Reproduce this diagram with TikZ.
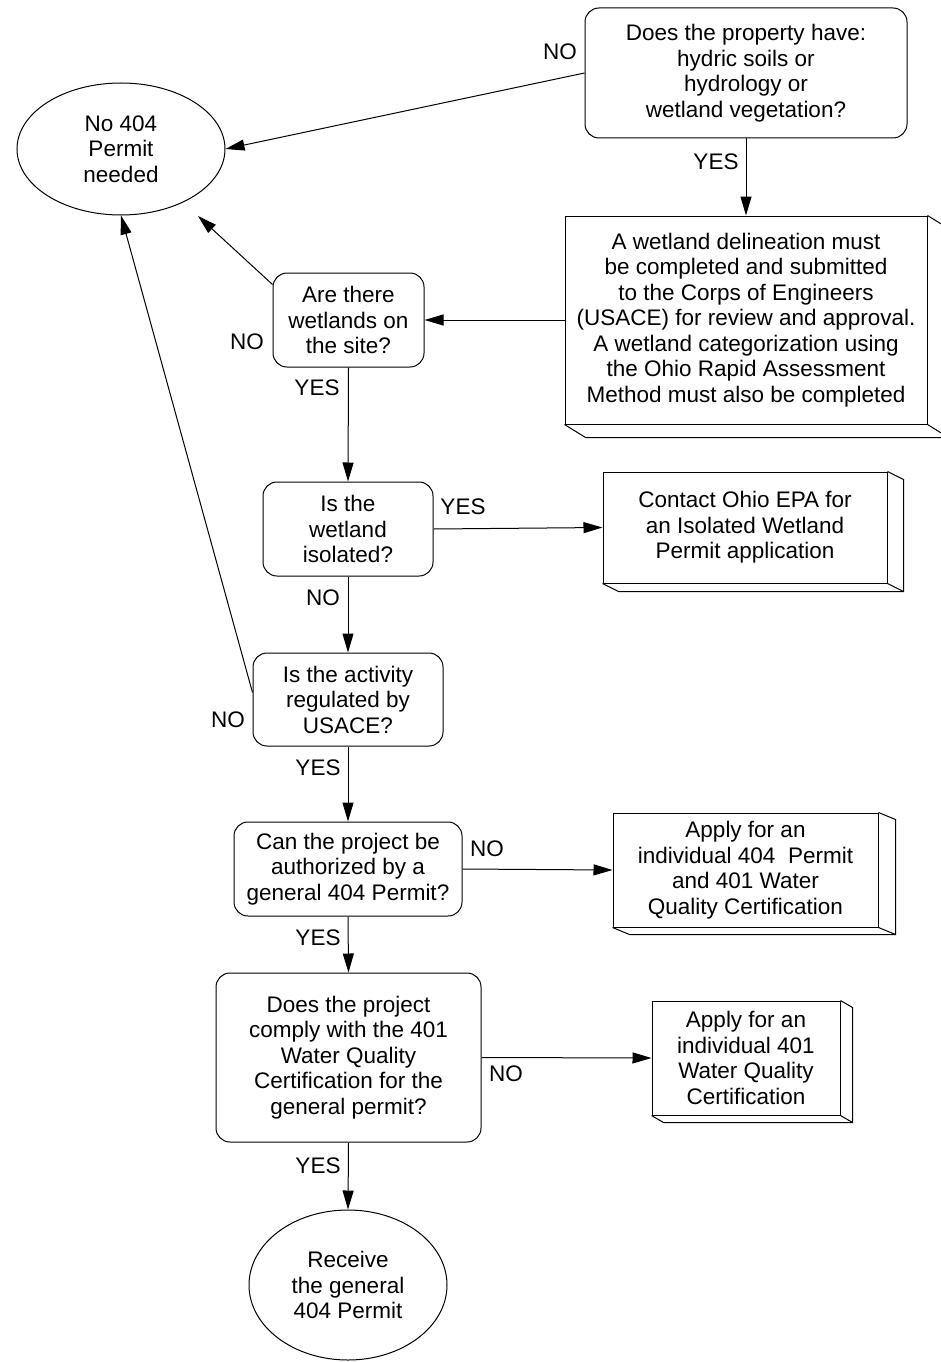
\documentclass[tikz,border=0pt]{standalone}
\usepackage{fontspec}
\setmainfont{Liberation Sans}
\usetikzlibrary{arrows.meta,calc,shapes.geometric}
\newcommand\boxdepth[3]{%
  \draw[line width=1pt] (#1.north east) -- ++(#2,#3) -- ($(#1.south east)+(#2,#3)$) -- ($(#1.south west)+(#2,#3)$) -- (#1.south west);
  \draw[line width=1pt] (#1.south east) -- ++(#2,#3);}
\begin{document}
\begin{tikzpicture}[x=1pt,y=-1pt,
  every node/.style={font=\fontsize{22.5}{25.5}\selectfont, align=center, inner sep=0pt},
  qbox/.style={draw, rounded corners=14pt, line width=1pt},
  abox/.style={draw, line width=1pt},
  oval/.style={draw, ellipse, line width=1pt},
  arr/.style={-{Triangle[length=19pt,width=11pt]}, line width=1pt}
]
\useasboundingbox (0,0) rectangle (941,1362);

% nodes
\node[qbox, minimum width=322pt, minimum height=130pt] (q1) at (746,73)
  {Does the property have:\\hydric soils or\\hydrology or\\wetland vegetation?};
\node[oval, minimum width=208pt, minimum height=132pt] (noP) at (121,149)
  {No 404\\Permit\\needed};
\node[abox, minimum width=362pt, minimum height=208pt] (del) at (746,320)
  {A wetland delineation must\\be completed and submitted\\to the Corps of Engineers\\(USACE) for review and approval.\\A wetland categorization using\\the Ohio Rapid Assessment\\Method must also be completed};
\node[qbox, minimum width=151pt, minimum height=94pt] (wet) at (348.5,320)
  {Are there\\wetlands on\\the site?};
\node[qbox, minimum width=170pt, minimum height=94pt] (iso) at (348,529)
  {Is the\\wetland\\isolated?};
\node[abox, minimum width=284pt, minimum height=111pt] (con) at (745,527.5)
  {Contact Ohio EPA for\\an Isolated Wetland\\Permit application};
\node[qbox, minimum width=190pt, minimum height=93pt] (act) at (348,699.5)
  {Is the activity\\regulated by\\USACE?};
\node[qbox, minimum width=228pt, minimum height=94pt] (gen) at (348,869)
  {Can the project be\\authorized by a\\general 404 Permit?};
\node[abox, minimum width=265pt, minimum height=114pt] (ap4) at (745.5,870)
  {Apply for an\\individual 404\ \ Permit\\and 401 Water\\Quality Certification};
\node[qbox, minimum width=265pt, minimum height=169pt] (com) at (348.5,1057.5)
  {Does the project\\comply with the 401\\Water Quality\\Certification for the\\general permit?};
\node[abox, minimum width=188pt, minimum height=114pt] (ap1) at (746,1058)
  {Apply for an\\individual 401\\Water Quality\\Certification};
\node[oval, minimum width=198pt, minimum height=150pt] (rec) at (348,1285)
  {Receive\\the general\\404 Permit};

% 3D depth
\boxdepth{del}{21}{13}
\boxdepth{con}{16}{8}
\boxdepth{ap4}{17}{7}
\boxdepth{ap1}{12}{7}

% labels
\node (l1) at (560,52) {NO};
\node (l2) at (716,162) {YES};
\node (l3) at (247,342) {NO};
\node (l4) at (317,388) {YES};
\node (l5) at (463,507) {YES};
\node (l6) at (323,598) {NO};
\node (l7) at (228,720) {NO};
\node (l8) at (318,768) {YES};
\node (l9) at (487,849) {NO};
\node (l10) at (318,938) {YES};
\node (l11) at (506,1074) {NO};
\node (l12) at (318,1166) {YES};

% connectors
\coordinate (wtip) at (198,216);
\draw[arr] (q1.west) -- (noP.east);
\draw[arr] (q1.south) -- (del.north);
\draw[arr] (del.west) -- (wet.east);
\draw[arr] ($(wet.north west)+(0,12)$) -- (wtip);
\draw[arr] ($(act.west)+(0,-7)$) -- (noP.south);
\draw[arr] (wet.south) -- (iso.north);
\draw[arr] (iso.east) -- (con.west);
\draw[arr] (iso.south) -- (act.north);
\draw[arr] (act.south) -- (gen.north);
\draw[arr] (gen.east) -- (ap4.west);
\draw[arr] (gen.south) -- (com.north);
\draw[arr] (com.east) -- (ap1.west);
\draw[arr] (com.south) -- (rec.north);
\end{tikzpicture}
\end{document}
